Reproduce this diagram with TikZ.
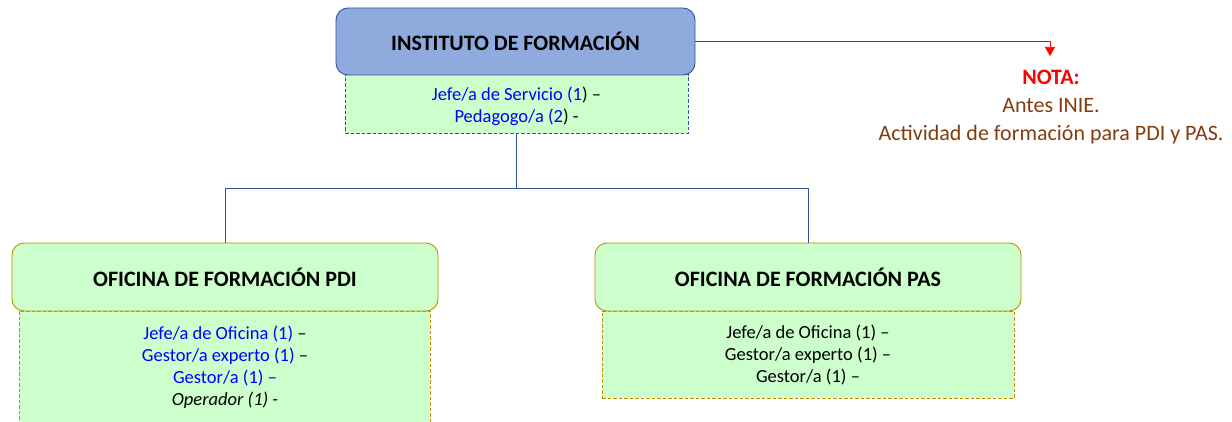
\documentclass[tikz,border=0pt]{standalone}
\usepackage{fontspec}
\setmainfont{Carlito}
\usetikzlibrary{arrows.meta}
\definecolor{topfill}{HTML}{8FAADC}
\definecolor{topdraw}{HTML}{2F5597}
\definecolor{lgreen}{HTML}{CCFFCC}
\definecolor{gold}{HTML}{BF9000}
\definecolor{bluetxt}{HTML}{0000FF}
\definecolor{brown}{HTML}{843C0C}
\definecolor{connblue}{HTML}{2F5597}
\begin{document}
\begin{tikzpicture}[x=1pt,y=-1pt,
  head/.style={draw, rounded corners=12pt, line width=0.9pt, minimum width=#1, minimum height=68pt, inner sep=0pt, font=\fontsize{22}{26}\selectfont\bfseries},
  subbox/.style={draw, dash pattern=on 3.5pt off 2pt, line width=1pt, fill=lgreen, inner sep=0pt},
  subtxt/.style={align=center, font=\fontsize{18.5}{22}\selectfont},
  conn/.style={draw=connblue, line width=0.8pt},
]
\clip (0,0) rectangle (1232,422);
\fill[white] (0,0) rectangle (1232,422);
% sub boxes
\node[subbox, draw=topdraw, minimum width=343pt, minimum height=59pt] (tsub) at (516.5,104.5) {};
\node[subtxt] (tsubt) at (516.5,106) {\textcolor{bluetxt}{Jefe/a de Servicio (1}) –\\\textcolor{bluetxt}{Pedagogo/a (2}) -};
\node[subbox, draw=gold, minimum width=411pt, minimum height=140pt] (lsub) at (224.5,381) {};
\node[subtxt] (lsubt) at (225,367) {\textcolor{bluetxt}{Jefe/a de Oficina (1)} –\\\textcolor{bluetxt}{Gestor/a experto (1)} –\\\textcolor{bluetxt}{Gestor/a (1) –}\\\textit{Operador (1) -}};
\node[subbox, draw=gold, minimum width=412pt, minimum height=87pt] (rsub) at (808,354.5) {};
\node[subtxt] (rsubt) at (808,355.5) {Jefe/a de Oficina (1) –\\Gestor/a experto (1) –\\Gestor/a (1) –};
% heads
\node[head=359pt, minimum height=67pt, fill=topfill, draw=topdraw] (top) at (515.5,41.5) {INSTITUTO DE FORMACIÓN};
\node[head=426pt, fill=lgreen, draw=gold] (lhead) at (225,277) {OFICINA DE FORMACIÓN PDI};
\node[head=426pt, fill=lgreen, draw=gold] (rhead) at (808,277) {OFICINA DE FORMACIÓN PAS};
% connectors
\coordinate (j) at (516.5,188);
\draw[conn] (tsub.south) -- (j);
\draw[conn] (j) -| (lhead.north);
\draw[conn] (j) -| (rhead.north);
% note
\node[align=center, font=\fontsize{22}{28}\selectfont, text=brown] (nota) at (1051,107.5) {\textcolor{red}{\bfseries NOTA:}\\Antes INIE.\\Actividad de formación para PDI y PAS.};
\coordinate (arrowend) at (1050,56);
\draw[red, line width=0.7pt, -{Triangle[width=10pt,length=9pt]}] (top.east) -| (arrowend);
\end{tikzpicture}
\end{document}
